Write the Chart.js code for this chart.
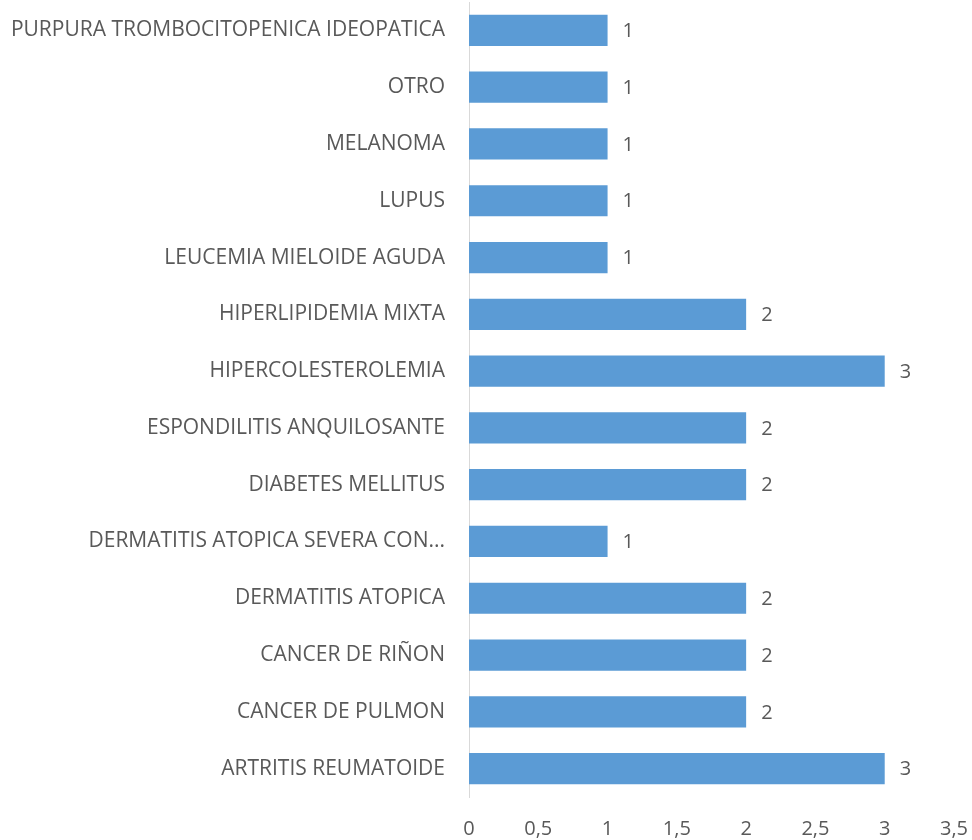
<!DOCTYPE html>
<html>
<head>
<meta charset="utf-8">
<script src="https://cdn.jsdelivr.net/npm/chart.js@4.4.1/dist/chart.umd.min.js"></script>
<style>
html,body{margin:0;padding:0;background:#fff;}
#wrap{width:972px;height:840px;position:relative;}
</style>
</head>
<body>
<div id="wrap"><canvas id="c" width="972" height="840"></canvas></div>
<script>
const categories = [
  "PURPURA TROMBOCITOPENICA IDEOPATICA",
  "OTRO",
  "MELANOMA",
  "LUPUS",
  "LEUCEMIA MIELOIDE AGUDA",
  "HIPERLIPIDEMIA MIXTA",
  "HIPERCOLESTEROLEMIA",
  "ESPONDILITIS ANQUILOSANTE",
  "DIABETES MELLITUS",
  "DERMATITIS ATOPICA SEVERA CON...",
  "DERMATITIS ATOPICA",
  "CANCER DE RIÑON",
  "CANCER DE PULMON",
  "ARTRITIS REUMATOIDE"
];
const values = [1, 1, 1, 1, 1, 2, 3, 2, 2, 1, 2, 2, 2, 3];
const xTicks = [0, 0.5, 1, 1.5, 2, 2.5, 3, 3.5];

const FONT = "'Open Sans', 'Liberation Sans', sans-serif";
const TEXT = "#595959";

const valueLabels = {
  id: 'valueLabels',
  afterDatasetsDraw(chart) {
    const ctx = chart.ctx;
    const meta = chart.getDatasetMeta(0);
    ctx.save();
    ctx.font = "20px " + FONT;
    ctx.fillStyle = TEXT;
    ctx.textAlign = 'left';
    ctx.textBaseline = 'middle';
    meta.data.forEach((bar, i) => {
      ctx.fillText(String(chart.data.datasets[0].data[i]).replace('.', ','), bar.x + 15, bar.y + 1);
    });
    ctx.restore();
  }
};

new Chart(document.getElementById('c'), {
  type: 'bar',
  data: {
    labels: categories,
    datasets: [{
      data: values,
      backgroundColor: '#5B9BD5',
      borderColor: '#5B9BD5',
      borderWidth: 0,
      categoryPercentage: 1,
      barPercentage: 0.55
    }]
  },
  options: {
    indexAxis: 'y',
    responsive: false,
    animation: false,
    devicePixelRatio: 1,
    layout: { padding: { top: 2, right: 18, left: 0, bottom: 0 } },
    plugins: { legend: { display: false }, tooltip: { enabled: false } },
    scales: {
      x: {
        min: 0,
        max: 3.5,
        afterBuildTicks(scale) { scale.ticks = xTicks.map(v => ({ value: v })); },
        afterFit(scale) { scale.height = 43; scale.paddingLeft = 0; scale.paddingRight = 0; },
        grid: { display: false },
        border: { display: false },
        ticks: {
          padding: 12,
          color: TEXT,
          font: { family: FONT, size: 20 },
          maxRotation: 0,
          callback: v => String(v).replace('.', ',')
        }
      },
      y: {
        afterFit(scale) { scale.width = 469; scale.paddingTop = 0; scale.paddingBottom = 0; },
        grid: { display: false },
        border: { display: true, color: '#D9D9D9', width: 1 },
        ticks: {
          padding: 16,
          color: TEXT,
          font: { family: FONT, size: 21 },
          autoSkip: false
        }
      }
    }
  },
  plugins: [valueLabels]
});
</script>
</body>
</html>
